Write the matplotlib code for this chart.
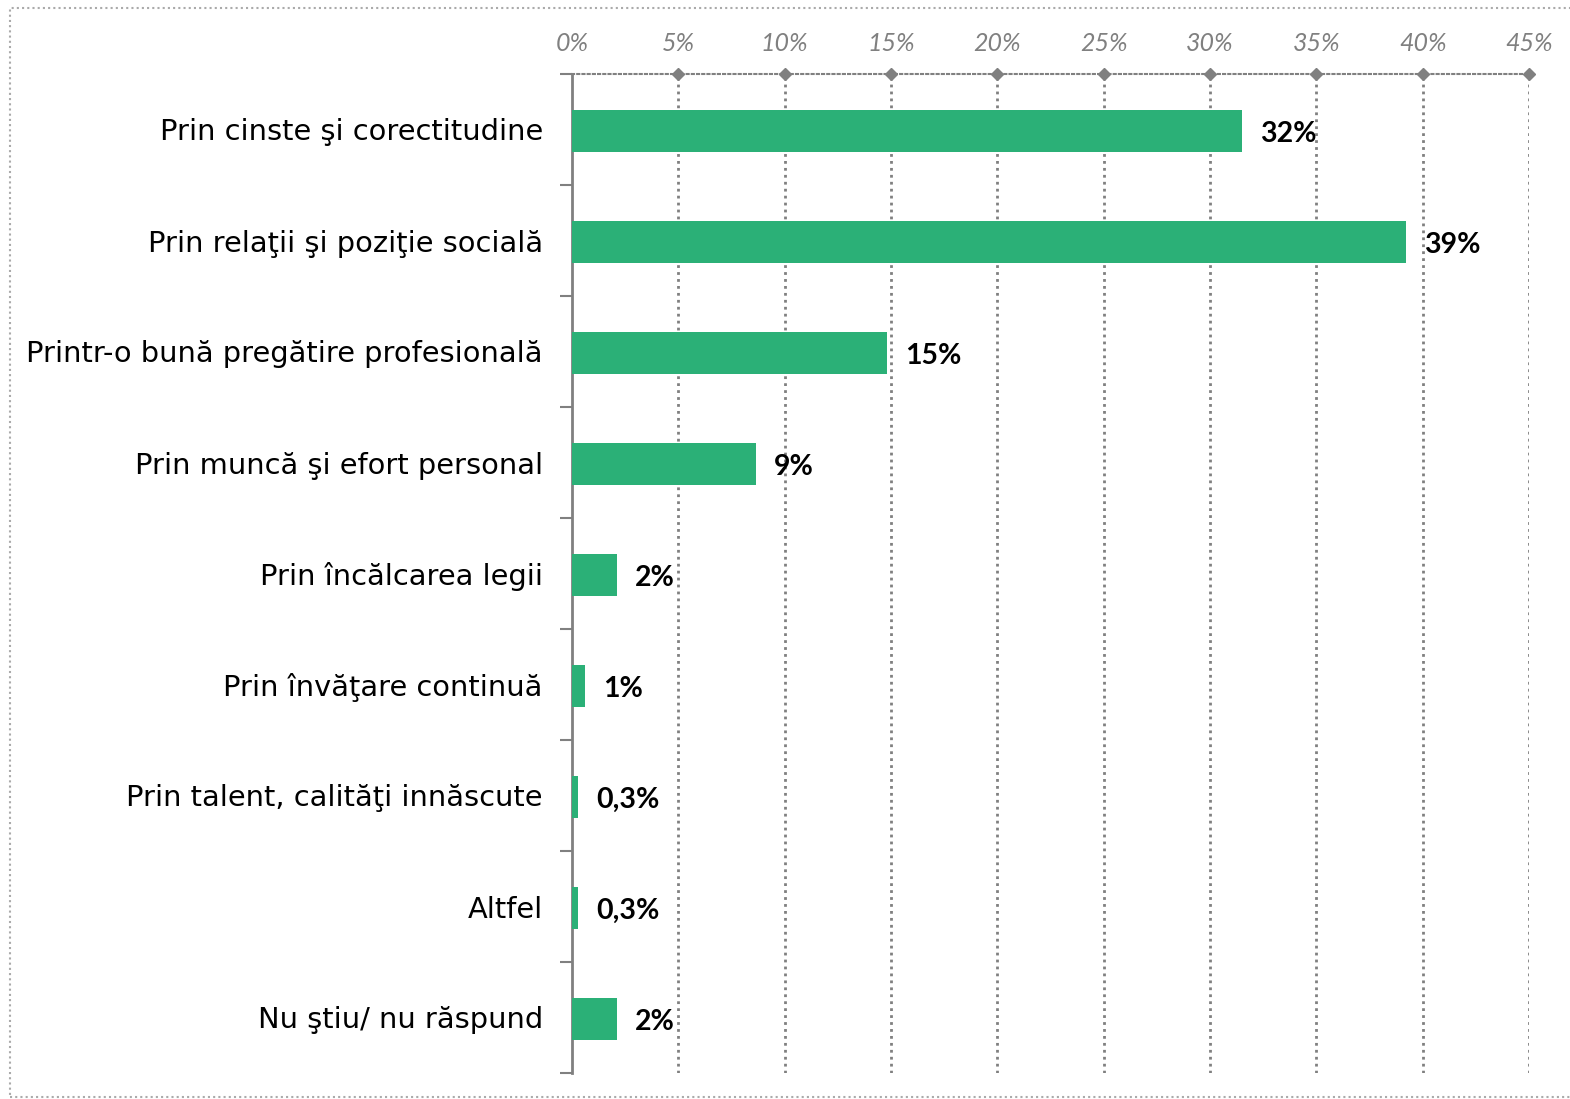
import matplotlib.pyplot as plt
import numpy as np
from matplotlib.patches import Rectangle

categories = [
    "Prin cinste şi corectitudine",
    "Prin relaţii şi poziţie socială",
    "Printr-o bună pregătire profesională",
    "Prin muncă şi efort personal",
    "Prin încălcarea legii",
    "Prin învăţare continuă",
    "Prin talent, calităţi innăscute",
    "Altfel",
    "Nu ştiu/ nu răspund",
]
values = [31.5, 39.2, 14.8, 8.65, 2.1, 0.6, 0.28, 0.28, 2.1]
value_labels = ["32%", "39%", "15%", "9%", "2%", "1%", "0,3%", "0,3%", "2%"]
xticks = [0, 5, 10, 15, 20, 25, 30, 35, 40, 45]

green = "#2bb077"
grey = "#808080"

fig = plt.figure(figsize=(15.7, 10.99), dpi=100)
ax = fig.add_axes([572 / 1570, 1 - 1073 / 1099, (1529 - 572) / 1570, (1073 - 74) / 1099])

n = len(categories)
y = np.arange(n)
ax.barh(y + 0.015, values, height=0.38, color=green, zorder=3)

for yi, v, lab in zip(y, values, value_labels):
    ax.text(v + 0.85, yi + 0.04, lab, va="center", ha="left", fontsize=20.5,
            fontweight="bold", family="Lato", color="black")

ax.set_xlim(0, 45)
ax.set_ylim(n - 0.5, -0.5)

# x axis on top, italic grey labels
ax.xaxis.tick_top()
ax.set_xticks(xticks)
ax.set_xticklabels([f"{t}%" for t in xticks], fontsize=18, style="italic",
                   color=grey, family="Lato")
ax.tick_params(axis="x", length=0, pad=14)

# dotted vertical gridlines
for t in xticks[1:]:
    ax.axvline(t, color=grey, linestyle=(0, (1, 1.5)), linewidth=2, zorder=1)

# y ticks at category boundaries, labels at centres
ax.set_yticks(np.arange(-0.5, n, 1))
ax.set_yticklabels([])
ax.set_yticks(y, minor=True)
ax.set_yticklabels(categories, minor=True, fontsize=20.8, family="DejaVu Sans")
ax.tick_params(axis="y", which="major", length=9, width=1.5, color=grey)
ax.tick_params(axis="y", which="minor", length=0, pad=21)

for side in ["right", "bottom"]:
    ax.spines[side].set_visible(False)
ax.spines["left"].set_color(grey)
ax.spines["left"].set_linewidth(2)
ax.spines["top"].set_color(grey)
ax.spines["top"].set_linestyle((0, (1, 1.5)))
ax.spines["top"].set_linewidth(1.5)

# diamond markers on the top axis line
ax.plot(xticks[1:], [-0.5] * (len(xticks) - 1), linestyle="none", marker="D",
        markersize=6, color=grey, clip_on=False, zorder=4)

# dotted border round the figure
fig.patches.append(Rectangle((10 / 1570, 2 / 1099), 1565 / 1570, 1089 / 1099,
                             transform=fig.transFigure, fill=False,
                             edgecolor="#aaaaaa", linestyle=(0, (1, 1.5)),
                             linewidth=1.5))

plt.savefig("out.png")
